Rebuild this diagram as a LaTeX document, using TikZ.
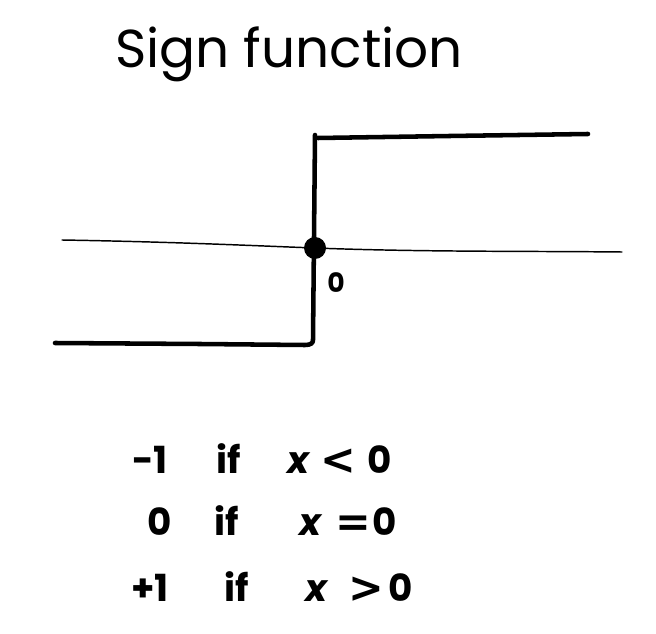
\documentclass[tikz,border=0pt]{standalone}
\usepackage{fontspec}
\setmainfont{Poppins}
\newfontfamily\symfont{DejaVu Sans}
\begin{document}
\begin{tikzpicture}[x=0.75pt,y=-0.75pt,
  thick line/.style={line width=3.4pt,line cap=round,line join=round},
  axis line/.style={line width=1.1pt,line cap=round},
  title text/.style={font=\fontsize{40}{48}\selectfont,anchor=base},
  row text/.style={font=\fontsize{28}{34}\selectfont\bfseries,anchor=base},
  var text/.style={font=\fontsize{28}{34}\selectfont\bfseries\itshape,anchor=base},
  rel text/.style={font=\fontsize{32}{38}\selectfont\symfont\bfseries,anchor=base},
  small label/.style={font=\fontsize{20}{24}\selectfont\bfseries,anchor=base}]
\useasboundingbox (0,0) rectangle (656,634);
% title
\node[title text] (title) at (289,68) {Sign function};
% axis
\coordinate (axL) at (62,240);
\coordinate (axR) at (622,252);
\coordinate (origin) at (315,248);
\draw[axis line] (axL) .. controls (180,242) and (260,246) .. (origin)
  .. controls (420,252) and (520,251) .. (axR);
% step function
\coordinate (lowL) at (55,343);
\coordinate (lowC) at (313,340);
\coordinate (topC) at (315,135);
\coordinate (topR) at (588,134);
\draw[thick line] (lowL) -- (200,344) -- (305,345) .. controls (311,345) and (313,343) .. (lowC)
  -- (topC);
\draw[thick line] (318,138) -- (450,136) -- (topR);
% origin dot
\fill (origin) circle (11);
\node[small label] (zero) at (336,292) {0};
% cases
\node[row text] (r1a) at (150,473) {−1};
\node[row text] (r1b) at (229,473) {if};
\node[var text] (r1x) at (298,473) {x};
\node[rel text] (r1r) at (338,474) {<};
\node[row text] (r1z) at (380,473) {0};
\node[row text] (r2a) at (160,535) {0};
\node[row text] (r2b) at (227,535) {if};
\node[var text] (r2x) at (310,535) {x};
\node[rel text] (r2r) at (353,536) {=};
\node[row text] (r2z) at (385,535) {0};
\node[row text] (r3a) at (150,601) {+1};
\node[row text] (r3b) at (237,601) {if};
\node[var text] (r3x) at (316,601) {x};
\node[rel text] (r3r) at (366,602) {>};
\node[row text] (r3z) at (401,601) {0};
\end{tikzpicture}
\end{document}
